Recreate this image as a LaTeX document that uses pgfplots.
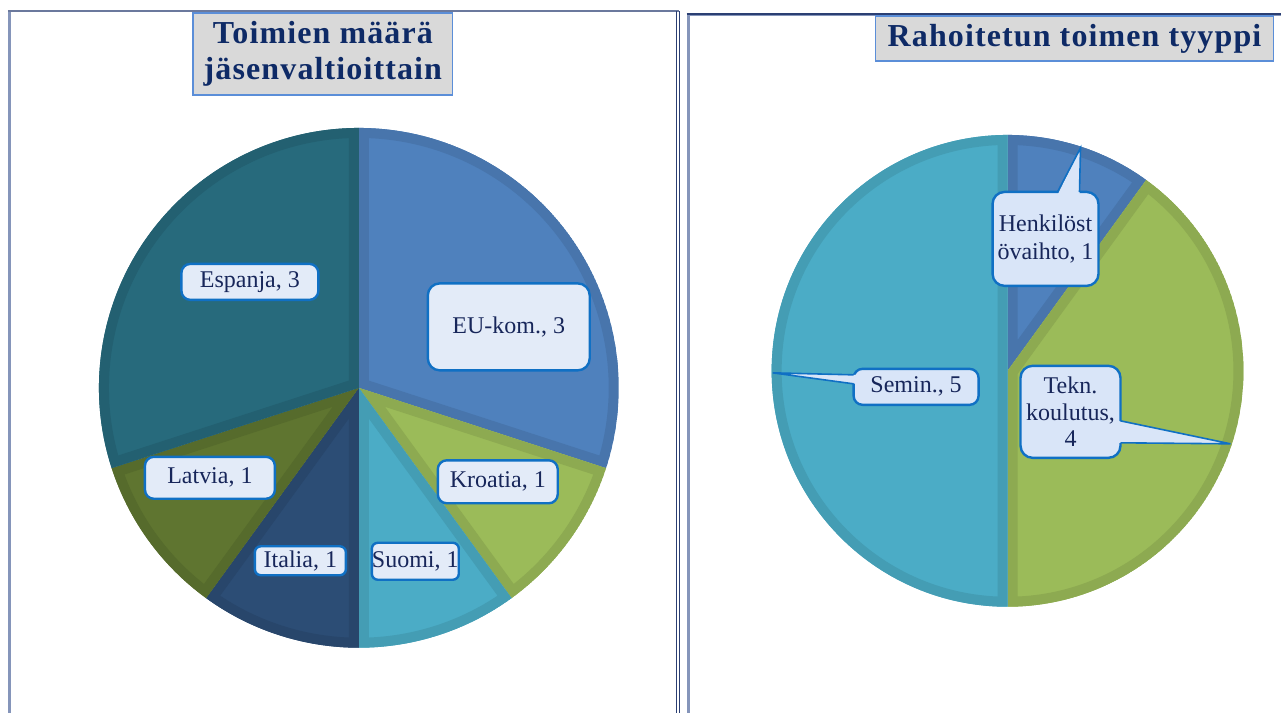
\documentclass[border=0pt]{standalone}
\usepackage{pgfplots}
\pgfplotsset{compat=1.18}
\usepackage{fontspec}
\setmainfont{Liberation Serif}
\definecolor{cEU}{HTML}{4F81BD}
\definecolor{cKro}{HTML}{9BBB59}
\definecolor{cSuo}{HTML}{4BACC6}
\definecolor{cIta}{HTML}{2C4D75}
\definecolor{cLat}{HTML}{5F7530}
\definecolor{cEsp}{HTML}{276A7C}
\definecolor{lblfill}{HTML}{E3EBF8}
\definecolor{lblfillR}{HTML}{D9E5F8}
\definecolor{lbldraw}{HTML}{1070C4}
\definecolor{lbltext}{HTML}{17265A}
\definecolor{tittext}{HTML}{0E2A66}
\definecolor{titfill}{HTML}{D9D9D9}
\definecolor{titdraw}{HTML}{5B8ED8}
\definecolor{panlight}{HTML}{8595BA}
\definecolor{pandark}{HTML}{2B3F73}
% cx cy r(px) total before value color
\newcommand{\pieslice}[7]{%
  \pgfmathsetmacro\aS{90-360*#5/#4}%
  \pgfmathsetmacro\aE{90-360*(#5+#6)/#4}%
  \pgfmathsetmacro\rr{#3*0.5}%
  \edef\temp{\noexpand\begin{scope}
    \noexpand\clip (axis cs:#1,#2) -- ++(\aS:\rr pt) arc[start angle=\aS, end angle=\aE, radius=\rr pt] -- cycle;
    \noexpand\fill[#7] (axis cs:#1,#2) -- ++(\aS:\rr pt) arc[start angle=\aS, end angle=\aE, radius=\rr pt] -- cycle;
    \noexpand\draw[#7!91!black, line width=10pt] (axis cs:#1,#2) -- ++(\aS:\rr pt) arc[start angle=\aS, end angle=\aE, radius=\rr pt] -- cycle;
    \noexpand\end{scope}}%
  \temp}
\tikzset{
  lbl/.style={draw=lbldraw, line width=1.2pt, fill=lblfill, rounded corners=4.5pt,
    text=lbltext, align=center, inner sep=0pt, font=\fontsize{12pt}{14pt}\selectfont},
  tit/.style={draw=titdraw, line width=0.6pt, fill=titfill, inner sep=0pt, align=center,
    text=tittext, font=\fontsize{16pt}{18pt}\selectfont\bfseries\addfontfeature{LetterSpace=3.5}}
}
\begin{document}
\begin{tikzpicture}
\begin{axis}[scale only axis, width=641pt, height=356.5pt,
  xmin=0, xmax=1282, ymin=0, ymax=713, y dir=reverse, hide axis, clip=false]
\fill[white] (axis cs:0,0) rectangle (axis cs:1282,713);
% panel frames
\draw[panlight, line width=1.5pt] (axis cs:9.5,11) -- (axis cs:9.5,713);
\draw[pandark!70!white, line width=1pt] (axis cs:8,11) -- (axis cs:679,11);
\draw[pandark, line width=0.5pt] (axis cs:677.3,11) -- (axis cs:677.3,713);
\draw[pandark, line width=0.5pt] (axis cs:679.5,11) -- (axis cs:679.5,713);
\draw[panlight, line width=1.5pt] (axis cs:688.5,14) -- (axis cs:688.5,713);
\draw[pandark, line width=0.6pt] (axis cs:687,14) -- (axis cs:1282,14);
\draw[panlight, line width=0.6pt] (axis cs:688,15.5) -- (axis cs:1282,15.5);
% left pie: EU-kom 3, Kroatia 1, Suomi 1, Italia 1, Latvia 1, Espanja 3
\pieslice{359}{388}{260}{10}{0}{3}{cEU}
\pieslice{359}{388}{260}{10}{3}{1}{cKro}
\pieslice{359}{388}{260}{10}{4}{1}{cSuo}
\pieslice{359}{388}{260}{10}{5}{1}{cIta}
\pieslice{359}{388}{260}{10}{6}{1}{cLat}
\pieslice{359}{388}{260}{10}{7}{3}{cEsp}
% right pie: Henkilostovaihto 1, Tekn. koulutus 4, Semin. 5
\pieslice{1008}{371}{236}{10}{0}{1}{cEU}
\pieslice{1008}{371}{236}{10}{1}{4}{cKro}
\pieslice{1008}{371}{236}{10}{5}{5}{cSuo}
% titles
\node[tit, minimum width=130pt, minimum height=41pt] at (axis cs:323,54) {Toimien määrä\\jäsenvaltioittain};
\node[tit, minimum width=199pt, minimum height=22.5pt] at (axis cs:1075,38.5) {Rahoitetun toimen tyyppi};
% left labels
\node[lbl, minimum width=68.5pt, minimum height=18pt] at (axis cs:250,282) {Espanja, 3};
\node[lbl, minimum width=81pt, minimum height=43.5pt, rounded corners=6pt] at (axis cs:509,327) {EU-kom., 3};
\node[lbl, minimum width=60pt, minimum height=21.5pt] at (axis cs:498,482) {Kroatia, 1};
\node[lbl, minimum width=65pt, minimum height=21pt] at (axis cs:210,478) {Latvia, 1};
\node[lbl, minimum width=45.5pt, minimum height=14.5pt, rounded corners=3pt] at (axis cs:300.5,561) {Italia, 1};
\node[lbl, minimum width=43.5pt, minimum height=18.5pt, rounded corners=3pt] at (axis cs:415.5,561.5) {Suomi, 1};
% right labels with pointers
\node[lbl, fill=lblfillR, minimum width=53pt, minimum height=47pt, rounded corners=6pt] at (axis cs:1046,239) {Henkilöst\\övaihto, 1};
\fill[lblfillR] (axis cs:1058,195) -- (axis cs:1081,148) -- (axis cs:1080,195) -- cycle;
\draw[lbldraw, line width=0.8pt] (axis cs:1058,192) -- (axis cs:1081,148) -- (axis cs:1080,192);
\node[lbl, fill=lblfillR, minimum width=62.5pt, minimum height=18pt] at (axis cs:916.5,387) {Semin., 5};
\fill[lblfillR] (axis cs:857,375) -- (axis cs:773,373) -- (axis cs:857,384) -- cycle;
\draw[lbldraw, line width=0.8pt] (axis cs:854,375) -- (axis cs:773,373) -- (axis cs:854,384);
\node[lbl, fill=lblfillR, minimum width=50pt, minimum height=46pt, rounded corners=6pt,
  font=\fontsize{12pt}{13.3pt}\selectfont] at (axis cs:1071,412) {Tekn.\\koulutus,\\4};
\fill[lblfillR] (axis cs:1118,421) -- (axis cs:1231,444) -- (axis cs:1118,443) -- cycle;
\draw[lbldraw, line width=0.8pt] (axis cs:1121,421) -- (axis cs:1231,444) -- (axis cs:1121,443);
\end{axis}
\end{tikzpicture}
\end{document}
